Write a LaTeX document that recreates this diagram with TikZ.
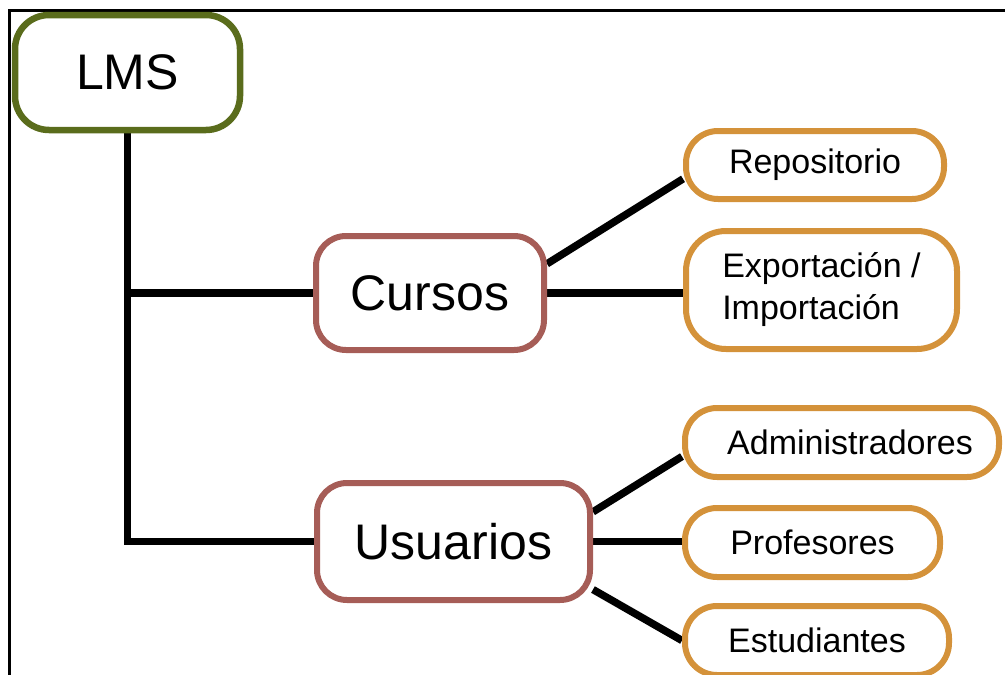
\documentclass[tikz,border=0pt]{standalone}
\usepackage{fontspec}
\setmainfont{Liberation Sans}
\usetikzlibrary{backgrounds}
\definecolor{lmsgreen}{RGB}{90,108,28}
\definecolor{midred}{RGB}{166,93,87}
\definecolor{leaforange}{RGB}{212,146,58}
\begin{document}
\begin{tikzpicture}[x=1pt,y=-1pt,
  rootbox/.style={draw=lmsgreen, line width=6.5pt, rounded corners=34pt, fill=white, inner sep=0pt,
    minimum width=225pt, minimum height=115pt, font=\fontsize{50}{60}\selectfont},
  midbox/.style={draw=midred, line width=6pt, rounded corners=30pt, fill=white, inner sep=0pt,
    minimum height=114pt, font=\fontsize{50}{60}\selectfont},
  leafbox/.style={draw=leaforange, line width=6pt, rounded corners=32pt, fill=white, inner sep=0pt,
    minimum height=69pt, font=\fontsize{34}{42}\selectfont},
  link/.style={line width=7.5pt, black},
  frameline/.style={line width=2.7pt, black}]
\useasboundingbox (0,0) rectangle (1005,675);
\node[rootbox] (lms) at (127.5,72.5) {LMS};
\node[midbox, minimum width=228pt] (cursos) at (430,293) {Cursos};
\node[midbox, minimum width=273pt, minimum height=117pt] (usuarios) at (453.5,541.5) {Usuarios};
\node[leafbox, minimum width=258pt, minimum height=68pt] (repo) at (815,165) {Repositorio};
\node[leafbox, minimum width=271pt, minimum height=118pt, rounded corners=40pt, align=left] (export) at (821.5,290) {Exportación /\\Importación};
\node[leafbox, minimum width=314pt] (admin) at (842,442.5) {\hspace*{16pt}Administradores};
\node[leafbox, minimum width=255pt] (prof) at (812.5,542.5) {Profesores};
\node[leafbox, minimum width=264pt] (estud) at (817,640.5) {Estudiantes};
\coordinate (frametop) at (9.7,10.7);
\coordinate (framebl) at (9.7,675);
\coordinate (frametr) at (1005,10.7);
\begin{scope}[on background layer]
  \draw[frameline] (framebl) -- (frametop) -- (frametr);
  \draw[link] (lms.south) -- (lms.south |- usuarios.west) -- (usuarios.west);
  \draw[link] (lms.south |- cursos.west) -- (cursos.west);
  \draw[link] (cursos.14.7) -- (repo.186.5);
  \draw[link] (cursos.east) -- (cursos.east -| export.west);
  \draw[link] (usuarios.12.2) -- (admin.185.3);
  \draw[link] (usuarios.east) -- (usuarios.east -| prof.west);
  \draw[link] (usuarios.-19.5) -- (estud.west);
\end{scope}
\end{tikzpicture}
\end{document}
